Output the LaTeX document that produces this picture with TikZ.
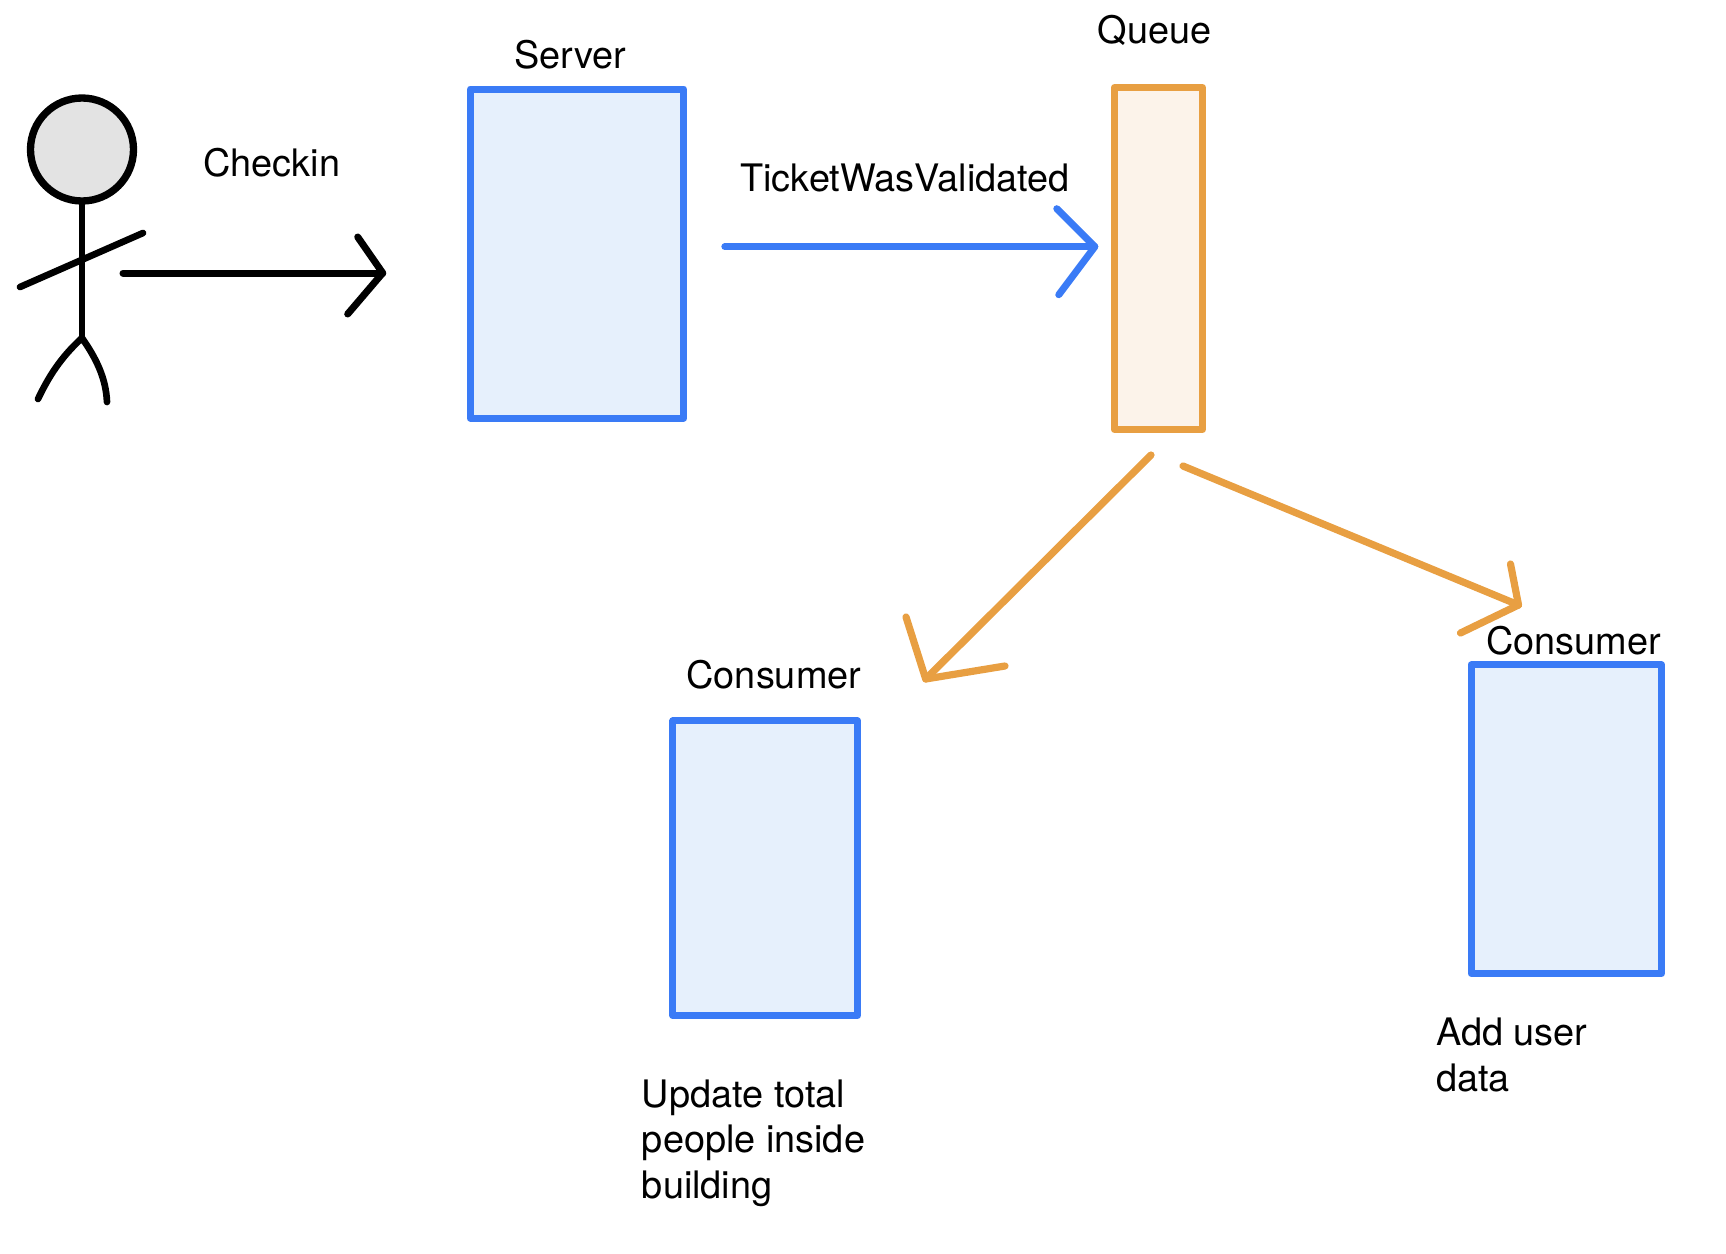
\documentclass[tikz,border=0pt]{standalone}
\usepackage{fontspec}
\setmainfont{TeX Gyre Heros}
\definecolor{flowblue}{RGB}{58,123,246}
\definecolor{boxblue}{RGB}{230,240,252}
\definecolor{floworange}{RGB}{232,159,66}
\definecolor{boxorange}{RGB}{252,243,234}
\definecolor{headgrey}{RGB}{227,227,227}
\tikzset{
  bluebox/.style={draw=flowblue,fill=boxblue,line width=5.25pt,inner sep=0pt,line join=round},
  orangebox/.style={draw=floworange,fill=boxorange,line width=5.25pt,inner sep=0pt,line join=round},
  caption/.style={inner sep=0pt,anchor=base west,align=left,font=\fontsize{28.4}{34.1}\selectfont},
  stickline/.style={draw=black,line width=5pt,line cap=round,line join=round},
  blackflow/.style={draw=black,line width=5.25pt,line cap=round,line join=round},
  blueflow/.style={draw=flowblue,line width=5.25pt,line cap=round,line join=round},
  orangeflow/.style={draw=floworange,line width=5.4pt,line cap=round,line join=round}
}
\begin{document}
\begin{tikzpicture}[x=0.75pt,y=0.75pt,yscale=-1,xscale=1]
\useasboundingbox (0,0) rectangle (1726,1253);

%Shape: Rectangle
\node [bluebox,minimum width=160.2pt,minimum height=246.75pt] (server) at (577,253.5) {};
\node [orangebox,minimum width=66.2pt,minimum height=256.5pt] (queue) at (1158.4,258.5) {};
\node [bluebox,minimum width=138.5pt,minimum height=220.9pt] (consumerTotal) at (765.2,868.25) {};
\node [bluebox,minimum width=142.9pt,minimum height=231.4pt] (consumerUser) at (1566.25,819.25) {};

%Shape: Stick figure
\node [circle,draw=black,fill=headgrey,line width=5.5pt,inner sep=0pt,minimum size=77.25pt] (head) at (82,149.5) {};
\coordinate (hip) at (82,338);
\draw [stickline] (head.south) -- (hip);
\draw [stickline] (20,287) -- (143,233);
\draw [stickline] (38,399) .. controls (48,378) and (60,358) .. (hip) .. controls (96,358) and (106,378) .. (107,402);

%Straight Lines
\coordinate (checkinTip) at ([shift={(-84,19.5)}]server.west);
\draw [blackflow] ([shift={(41,-65)}]hip) -- (checkinTip);
\draw [blackflow] ([shift={(-25,-36)}]checkinTip) -- (checkinTip) -- ([shift={(-35,41)}]checkinTip);

\coordinate (validatedTip) at ([shift={(-16,-11.8)}]queue.west);
\draw [blueflow] ([shift={(37.5,-6.8)}]server.east) -- (validatedTip);
\draw [blueflow] ([shift={(-38,-38)}]validatedTip) -- (validatedTip) -- ([shift={(-36,48)}]validatedTip);

\coordinate (totalTip) at ([shift={(160.5,-38.5)}]consumerTotal.north);
\draw [orangeflow] ([shift={(-7.4,22)}]queue.south) -- (totalTip);
\draw [orangeflow] ([shift={(-19.7,-62)}]totalTip) -- (totalTip) -- ([shift={(79.3,-13)}]totalTip);

\coordinate (userTip) at ([shift={(-47.75,-56.5)}]consumerUser.north);
\draw [orangeflow] ([shift={(24.6,33)}]queue.south) -- (userTip);
\draw [orangeflow] ([shift={(-8,-41)}]userTip) -- (userTip) -- ([shift={(-58,28)}]userTip);

% Text Node
\node [caption] (checkinLabel) at (203,176.8) {Checkin};
\node [caption] (serverLabel) at (514,68.4) {Server};
\node [caption] (validatedLabel) at (740,191.8) {TicketWasValidated};
\node [caption] (queueLabel) at (1097.7,43.4) {Queue};
\node [caption] (totalLabel) at (686.3,688.9) {Consumer};
\node [caption] (userLabel) at (1486,654.1) {Consumer};
\node [caption] (totalNote) at (641.7,1198.1) {Update total\\people inside\\building};
\node [caption] (userNote) at (1436,1091) {Add user\\data};

\end{tikzpicture}
\end{document}
